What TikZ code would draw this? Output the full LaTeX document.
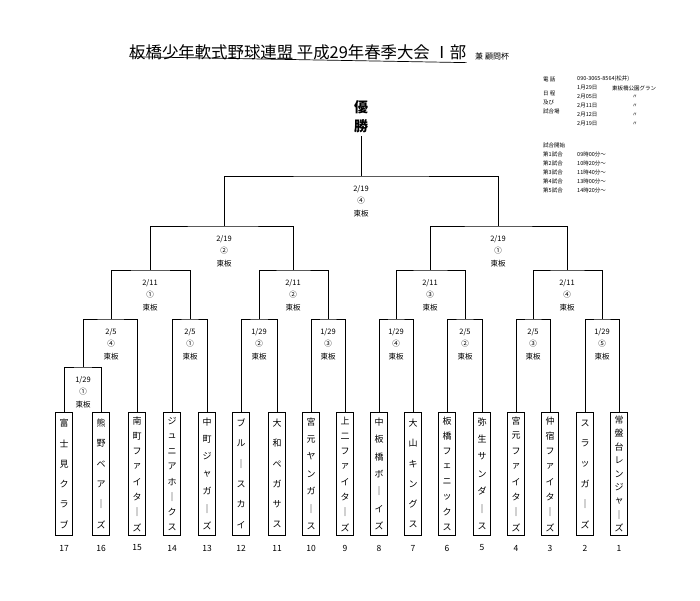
\documentclass[tikz,border=0pt]{standalone}
\usepackage{fontspec}
\setmainfont{Noto Sans CJK JP}
\begin{document}
\begin{tikzpicture}[x=1pt,y=-1pt,
  teambox/.style={draw,line width=0.8pt,minimum width=17,minimum height=123,inner sep=0},
  tch/.style={font=\fontsize{9}{9}\selectfont,inner sep=0},
  lbl/.style={anchor=north,align=center,font=\fontsize{7.5}{12.5}\selectfont,inner sep=0},
  br/.style={line width=0.8pt},
  info/.style={anchor=west,font=\fontsize{5.5}{6}\selectfont,inner sep=0}]
\useasboundingbox (0,0) rectangle (700,600);
\newcommand\team[4]{%
  \node[teambox] (t#1) at (#2,474) {};
  \foreach \c [count=\i] in {#4} {\node[tch] at (#2,{413+(\i-0.5)*122/#3}) {\c};}
  \node[font=\fontsize{8.5}{9}\selectfont] (n#1) at (#2,548) {#1};}
\team{17}{64}{6}{富,士,見,ク,ラ,ブ}
\team{16}{101}{6}{熊,野,ベ,ア,｜,ズ}
\team{15}{137}{8}{南,町,フ,ァ,イ,タ,｜,ズ}
\team{14}{172}{8}{ジ,ュ,ニ,ア,ホ,｜,ク,ス}
\team{13}{207}{7}{中,町,ジ,ャ,ガ,｜,ズ}
\team{12}{241}{6}{ブ,ル,｜,ス,カ,イ}
\team{11}{277}{6}{大,和,ペ,ガ,サ,ス}
\team{10}{311}{7}{宮,元,ヤ,ン,ガ,｜,ス}
\team{9}{345}{8}{上,二,フ,ァ,イ,タ,｜,ズ}
\team{8}{379}{7}{中,板,橋,ボ,｜,イ,ズ}
\team{7}{413}{6}{大,山,キ,ン,グ,ス}
\team{6}{447}{8}{板,橋,フ,ェ,ニ,ッ,ク,ス}
\team{5}{482}{7}{弥,生,サ,ン,ダ,｜,ス}
\team{4}{516}{8}{宮,元,フ,ァ,イ,タ,｜,ズ}
\team{3}{550}{8}{仲,宿,フ,ァ,イ,タ,｜,ズ}
\team{2}{585}{6}{ス,ラ,ッ,ガ,｜,ズ}
\team{1}{619}{9}{常,盤,台,レ,ン,ジ,ャ,｜,ズ}
% match junctions
\foreach \n/\x/\y in {m1/83/367,m2/111/319,m3/190/319,m4/259/319,m5/328/319,m6/396/319,m7/465/319,m8/533/319,m9/602/319,m10/150/270,m11/293/270,m12/430/270,m13/567/270,m14/224/226,m15/498/226,m16/361/176,win/361/136}
  \coordinate (\n) at (\x,\y);
\draw[br] (t17.north) |- (m1) -| (t16.north);
\draw[br] (m1) |- (m2) -| (t15.north);
\draw[br] (t14.north) |- (m3) -| (t13.north);
\draw[br] (t12.north) |- (m4) -| (t11.north);
\draw[br] (t10.north) |- (m5) -| (t9.north);
\draw[br] (t8.north) |- (m6) -| (t7.north);
\draw[br] (t6.north) |- (m7) -| (t5.north);
\draw[br] (t4.north) |- (m8) -| (t3.north);
\draw[br] (t2.north) |- (m9) -| (t1.north);
\draw[br] (m2) |- (m10) -| (m3);
\draw[br] (m4) |- (m11) -| (m5);
\draw[br] (m6) |- (m12) -| (m7);
\draw[br] (m8) |- (m13) -| (m9);
\draw[br] (m10) |- (m14) -| (m11);
\draw[br] (m12) |- (m15) -| (m13);
\draw[br] (m14) |- (m16) -| (m15);
\draw[br] (m16) -- (win);
% match labels
\foreach \m/\d/\c in {m1/1\slash29/①,m2/2\slash5/④,m3/2\slash5/①,m4/1\slash29/②,m5/1\slash29/③,m6/1\slash29/④,m7/2\slash5/②,m8/2\slash5/③,m9/1\slash29/⑤,m10/2\slash11/①,m11/2\slash11/②,m12/2\slash11/③,m13/2\slash11/④,m14/2\slash19/②,m15/2\slash19/①,m16/2\slash19/④}
  \node[lbl] at ([yshift=-9]\m) {\d\\\c\\東板};
\node[font=\fontsize{14}{19}\selectfont\bfseries,align=center,anchor=south] (yusho) at (win) {優\\勝};
% title
\node[anchor=base west,font=\fontsize{16.4}{18}\selectfont,inner sep=0] (title) at (129,58) {板橋少年軟式野球連盟 平成29年春季大会 Ⅰ部};
\draw[line width=0.7pt] (title.south west) ++(0,-3) -- ([yshift=-3]title.south east);
\node[anchor=base west,font=\fontsize{8}{9}\selectfont,inner sep=0] (kan) at (475,59) {兼 顧問杯};
% info block
\node[info] (i1) at (543,79) {電 話};
\node[info] (i2) at (577,79) {090-3065-8564(松井)};
\node[info] (i3) at (577,88) {1月29日};
\node[info] (i4) at (612,88) {東板橋公園グラン};
\foreach \yy/\dd in {97/05,106/11,115/12,124/19} {
  \node[info] at (577,\yy) {2月\dd 日};
  \node[info] at (632,\yy) {〃};}
\node[info] (i5) at (543,93) {日 程};
\node[info] (i6) at (543,102) {及び};
\node[info] (i7) at (543,111) {試合場};
\node[info] (i8) at (543,145) {試合開始};
\foreach \k/\t [count=\j] in {1/09時00分～,2/10時20分～,3/11時40分～,4/13時00分～,5/14時20分～} {
  \node[info] at (543,{145+9*\j}) {第\k 試合};
  \node[info] at (577,{145+9*\j}) {\t};}
\end{tikzpicture}
\end{document}
